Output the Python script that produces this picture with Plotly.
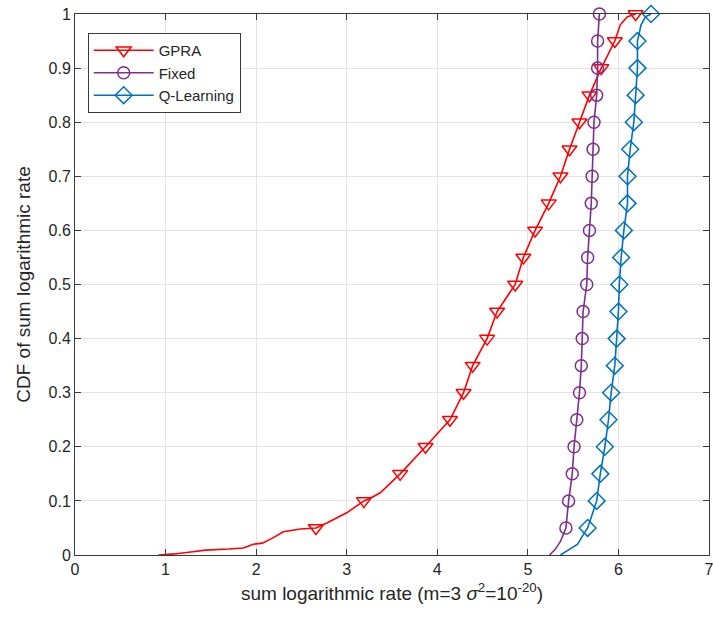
import plotly.graph_objects as go

# CDF levels where markers are drawn
cdf_marks = [0.05, 0.10, 0.15, 0.20, 0.25, 0.30, 0.35, 0.40, 0.45, 0.50,
             0.55, 0.60, 0.65, 0.70, 0.75, 0.80, 0.85, 0.90, 0.95, 1.00]

gpra_marks = [2.66, 3.19, 3.59, 3.87, 4.14, 4.29, 4.39, 4.55, 4.66, 4.86,
              4.95, 5.08, 5.23, 5.36, 5.46, 5.57, 5.68, 5.81, 5.96, 6.19]
fixed_marks = [5.42, 5.45, 5.49, 5.51, 5.54, 5.57, 5.59, 5.60, 5.61, 5.65,
               5.66, 5.68, 5.70, 5.71, 5.72, 5.73, 5.76, 5.77, 5.77, 5.79]
ql_marks = [5.66, 5.76, 5.80, 5.85, 5.89, 5.92, 5.96, 5.98, 6.00, 6.01,
            6.03, 6.06, 6.10, 6.10, 6.13, 6.17, 6.19, 6.21, 6.21, 6.36]

# full empirical CDF curves (x, cdf)
gpra_x = [0.92, 1.10, 1.30, 1.44, 1.70, 1.86, 1.97, 2.07, 2.20, 2.30, 2.49, 2.66,
          2.78, 2.90, 3.00, 3.19, 3.26, 3.37, 3.59, 3.87, 4.14, 4.29, 4.39, 4.55,
          4.66, 4.86, 4.95, 5.08, 5.23, 5.36, 5.46, 5.57, 5.68, 5.81, 5.96, 6.02,
          6.10, 6.19]
gpra_y = [0.0, 0.002, 0.006, 0.009, 0.011, 0.013, 0.020, 0.022, 0.033, 0.043, 0.048, 0.050,
          0.059, 0.070, 0.078, 0.100, 0.105, 0.115, 0.150, 0.200, 0.250, 0.300, 0.350, 0.400,
          0.450, 0.500, 0.550, 0.600, 0.650, 0.700, 0.750, 0.800, 0.850, 0.900, 0.950, 0.980,
          0.995, 1.0]

fixed_x = [5.24, 5.30, 5.36, 5.42, 5.45, 5.49, 5.51, 5.54, 5.57, 5.59, 5.60, 5.61,
           5.65, 5.66, 5.68, 5.70, 5.71, 5.72, 5.73, 5.76, 5.77, 5.77, 5.79]
fixed_y = [0.0, 0.01, 0.025, 0.05, 0.10, 0.15, 0.20, 0.25, 0.30, 0.35, 0.40, 0.45,
           0.50, 0.55, 0.60, 0.65, 0.70, 0.75, 0.80, 0.85, 0.90, 0.95, 1.0]

ql_x = [5.36, 5.45, 5.55, 5.62, 5.66, 5.70, 5.76, 5.80, 5.85, 5.89, 5.92, 5.96, 5.98,
        6.00, 6.01, 6.03, 6.06, 6.10, 6.10, 6.13, 6.17, 6.19, 6.21, 6.21, 6.25, 6.30, 6.36]
ql_y = [0.0, 0.01, 0.02, 0.04, 0.05, 0.07, 0.10, 0.15, 0.20, 0.25, 0.30, 0.35, 0.40,
        0.45, 0.50, 0.55, 0.60, 0.65, 0.70, 0.75, 0.80, 0.85, 0.90, 0.95, 0.98, 0.995, 1.0]

series = [
    ("GPRA", "#FF0000", "triangle-down-open", 13, gpra_x, gpra_y, gpra_marks),
    ("Fixed", "#7E2F8E", "circle-open", 12, fixed_x, fixed_y, fixed_marks),
    ("Q-Learning", "#0072BD", "diamond-open", 13, ql_x, ql_y, ql_marks),
]

fig = go.Figure()
for name, color, sym, ms, xs, ys, mx in series:
    fig.add_trace(go.Scatter(x=xs, y=ys, mode="lines", line=dict(color=color, width=1.6),
                             showlegend=False, hoverinfo="skip", cliponaxis=False))
    fig.add_trace(go.Scatter(x=mx, y=cdf_marks, mode="markers", showlegend=False,
                             cliponaxis=False,
                             marker=dict(symbol=sym, size=ms, color=color,
                                         line=dict(color=color, width=1.5))))
    fig.add_trace(go.Scatter(x=[None], y=[None], mode="lines+markers", name=name,
                             line=dict(color=color, width=1.6),
                             marker=dict(symbol=sym, size=ms, color=color,
                                         line=dict(color=color, width=1.5))))

axis_common = dict(showline=True, linecolor="#3a3a3a", linewidth=1, mirror="ticks",
                   ticks="inside", ticklen=6, tickcolor="#3a3a3a", automargin=False,
                   ticklabeloverflow="allow",
                   showgrid=True, gridcolor="#E3E3E3", gridwidth=1, zeroline=False,
                   tickfont=dict(family="Liberation Sans, Arial", size=16, color="#262626"))

fig.update_layout(
    width=713, height=622,
    margin=dict(l=75, r=4, t=14, b=67),
    paper_bgcolor="white", plot_bgcolor="white",
    font=dict(family="Liberation Sans, Arial", size=16, color="#262626"),
    xaxis=dict(range=[0, 7], tick0=0, dtick=1,
               title=dict(text="sum logarithmic rate (m=3 <i>σ</i><sup>2</sup>=10<sup>-20</sup>)",
                          font=dict(size=19), standoff=9),
               **axis_common),
    yaxis=dict(range=[0, 1], tick0=0, dtick=0.1,
               title=dict(text="CDF of sum logarithmic rate", font=dict(size=19), standoff=12),
               **axis_common),
    legend=dict(x=0.02, y=0.965, xanchor="left", yanchor="top",
                bgcolor="white", bordercolor="#3a3a3a", borderwidth=1,
                font=dict(size=15), tracegroupgap=0, itemwidth=60),
)

fig.write_html("out.html", config={"displayModeBar": False},
               post_script="document.body.style.margin='0px';document.body.style.overflow='hidden';")
